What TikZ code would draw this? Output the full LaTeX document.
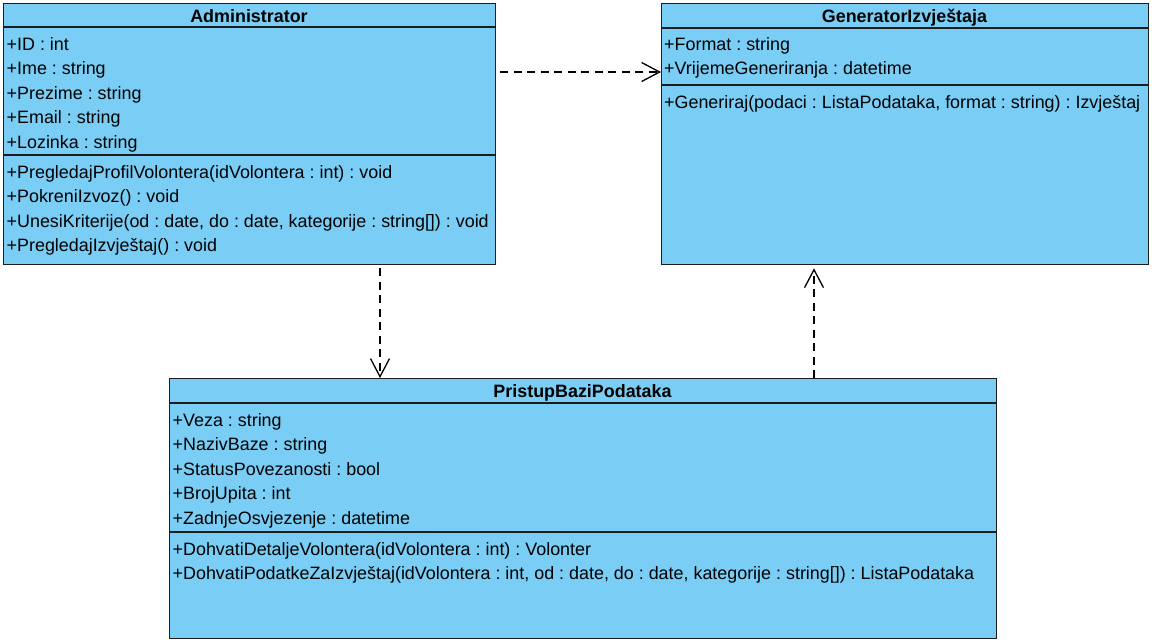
\documentclass[tikz,border=0pt]{standalone}
\usepackage{fontspec}
\setmainfont{Liberation Sans}
\usetikzlibrary{arrows.meta,calc}
\definecolor{classfill}{RGB}{122,206,245}
\definecolor{classline}{RGB}{28,28,28}
\frenchspacing
\begin{document}
\begin{tikzpicture}[x=1pt,y=1pt,
  classbox/.style={draw=classline, fill=classfill, line width=1.3pt, rectangle, inner sep=0pt, anchor=north west},
  sep/.style={draw=classline, line width=1.3pt},
  title/.style={font=\fontsize{17.9}{20}\selectfont\bfseries, inner sep=0pt, anchor=base},
  row/.style={font=\fontsize{17.9}{20}\selectfont, inner sep=0pt, anchor=base west},
  dep/.style={draw=black, line width=1.3pt, dash pattern=on 8pt off 5.5pt,
    -{Straight Barb[length=18pt,width=19pt]}}
]
\useasboundingbox (0,0) rectangle (1152,-641);

% ---------- Administrator ----------
\node[classbox, minimum width=492pt, minimum height=261pt] (admin) at (3,-3) {};
\draw[sep] (admin.west |- 0,-27) -- (admin.east |- 0,-27);
\draw[sep] (admin.west |- 0,-155) -- (admin.east |- 0,-155);
\node[title] (adminT) at (249,-22) {Administrator};
\node[row] (adminA1) at (6.5,-50)    {+ID : int};
\node[row] (adminA2) at (6.5,-74.5)  {+Ime : string};
\node[row] (adminA3) at (6.5,-99)    {+Prezime : string};
\node[row] (adminA4) at (6.5,-123.5) {+Email : string};
\node[row] (adminA5) at (6.5,-148)   {+Lozinka : string};
\node[row] (adminM1) at (6.5,-178)   {+PregledajProfilVolontera(idVolontera : int) : void};
\node[row] (adminM2) at (6.5,-202.5) {+PokreniIzvoz() : void};
\node[row] (adminM3) at (6.5,-227)   {+UnesiKriterije(od : date, do : date, kategorije : string[]) : void};
\node[row] (adminM4) at (6.5,-251.5) {+PregledajIzvještaj() : void};

% ---------- GeneratorIzvještaja ----------
\node[classbox, minimum width=487pt, minimum height=261pt] (gen) at (661,-3) {};
\draw[sep] (gen.west |- 0,-28) -- (gen.east |- 0,-28);
\draw[sep] (gen.west |- 0,-85) -- (gen.east |- 0,-85);
\node[title] (genT) at (904.5,-22) {GeneratorIzvještaja};
\node[row] (genA1) at (664,-50)   {+Format : string};
\node[row] (genA2) at (664,-74.5) {+VrijemeGeneriranja : datetime};
\node[row] (genM1) at (664,-108)  {+Generiraj(podaci : ListaPodataka, format : string) : Izvještaj};

% ---------- PristupBaziPodataka ----------
\node[classbox, minimum width=827pt, minimum height=260pt] (baza) at (169,-378) {};
\draw[sep] (baza.west |- 0,-403) -- (baza.east |- 0,-403);
\node[title] (bazaT) at (582.5,-397) {PristupBaziPodataka};
\draw[sep] (baza.west |- 0,-532) -- (baza.east |- 0,-532);
\node[row] (bazaA1) at (172.5,-426)   {+Veza : string};
\node[row] (bazaA2) at (172.5,-450.5) {+NazivBaze : string};
\node[row] (bazaA3) at (172.5,-475)   {+StatusPovezanosti : bool};
\node[row] (bazaA4) at (172.5,-499.5) {+BrojUpita : int};
\node[row] (bazaA5) at (172.5,-524)   {+ZadnjeOsvjezenje : datetime};
\node[row] (bazaM1) at (172.5,-555)   {+DohvatiDetaljeVolontera(idVolontera : int) : Volonter};
\node[row] (bazaM2) at (172.5,-579.5) {+DohvatiPodatkeZaIzvještaj(idVolontera : int, od : date, do : date, kategorije : string[]) : ListaPodataka};

% ---------- dependencies ----------
\draw[dep] ($(admin.north east)+(4,-69)$) -- ($(gen.north west)+(0,-69)$);
\draw[dep] ($(admin.south west)+(377,-3)$) -- ($(baza.north west)+(211,0)$);
\draw[dep] ($(baza.north west)+(645,0)$) -- ($(gen.south west)+(153,-3)$);
\end{tikzpicture}
\end{document}
